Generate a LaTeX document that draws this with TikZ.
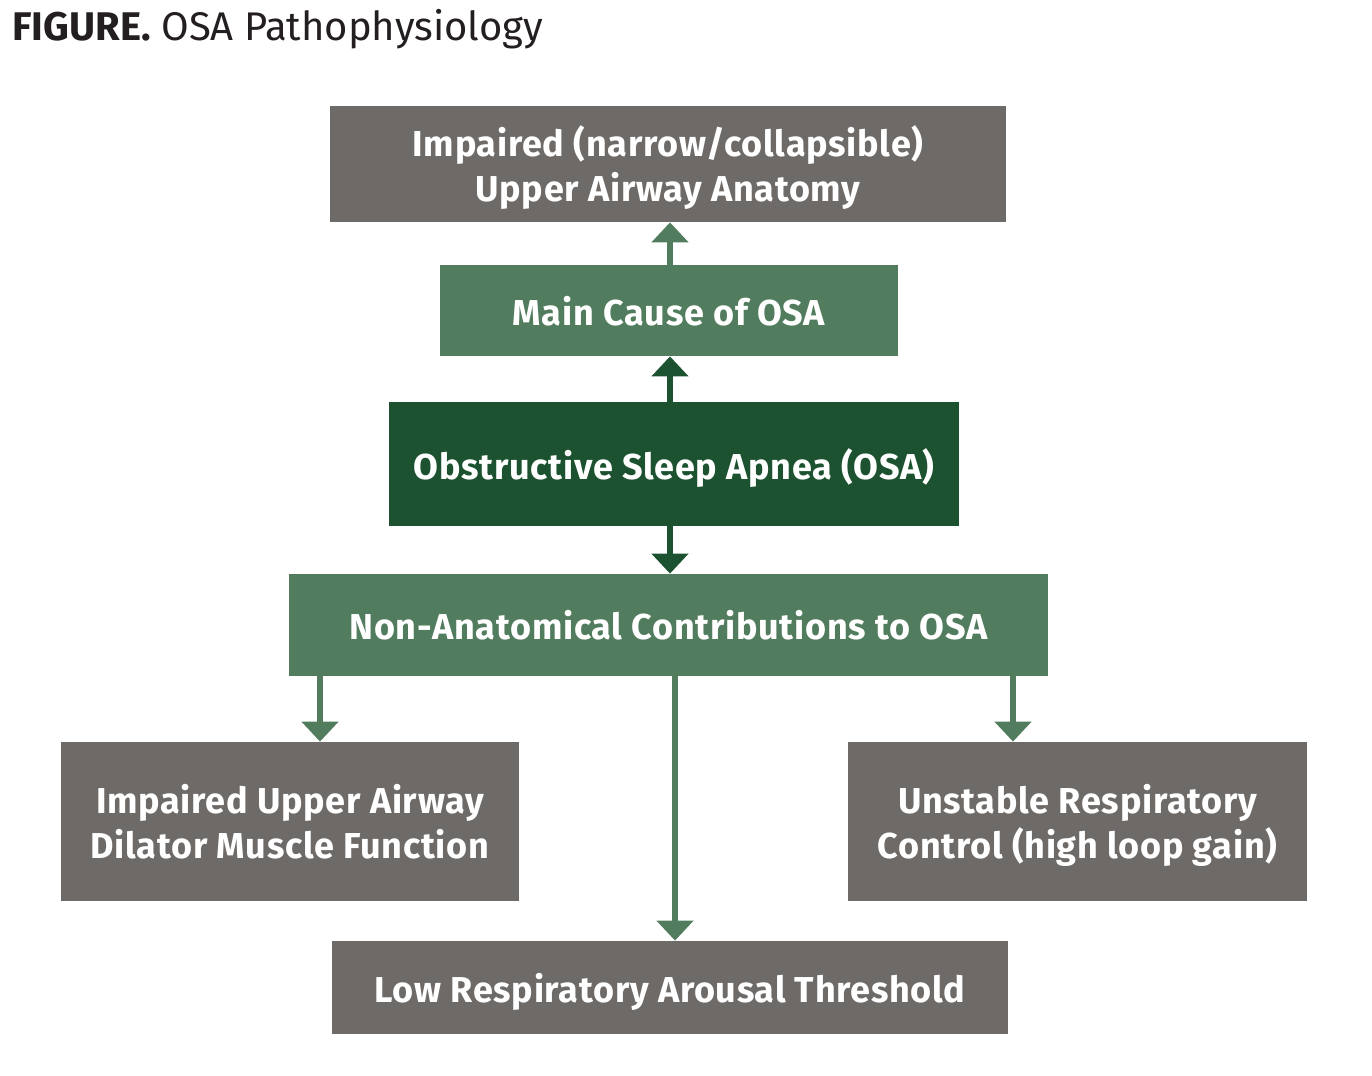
\documentclass[tikz,border=0pt]{standalone}
\usepackage{fontspec}
\setmainfont{Fira Sans}
\usetikzlibrary{arrows.meta}
\definecolor{boxgray}{HTML}{6E6A68}
\definecolor{midgreen}{HTML}{527C5E}
\definecolor{darkgreen}{HTML}{1C5230}
\definecolor{titlegray}{HTML}{231F20}
\begin{document}
\begin{tikzpicture}[x=0.5pt,y=-0.5pt,
  box/.style={rectangle, inner sep=0pt, text=white, align=center, text depth=0pt,
    font=\fontsize{18}{22.5}\selectfont\bfseries\addfontfeature{LetterSpace=2}},
  gbox/.style={box, fill=boxgray},
  mbox/.style={box, fill=midgreen},
  dbox/.style={box, fill=darkgreen},
  marrow/.style={draw=midgreen, line width=2.6pt, -{Triangle[width=18pt,length=10pt]}},
  darrow/.style={draw=darkgreen, line width=2.6pt, -{Triangle[width=18pt,length=10pt]}}]
\useasboundingbox (0,0) rectangle (1372,1076);
\node[anchor=base west, inner sep=0pt, text=titlegray, font=\fontsize{20}{24}\selectfont] (title) at (12,40)
  {\textbf{FIGURE.} OSA Pathophysiology};
\node[gbox, minimum width=338pt, minimum height=58pt] (anat) at (668,164)
  {Impaired (narrow/collapsible)\\Upper Airway Anatomy};
\node[mbox, minimum width=229pt, minimum height=45.5pt] (main) at (669,310.5) {Main Cause of OSA};
\node[dbox, minimum width=285pt, minimum height=62pt] (osa) at (674,464) {Obstructive Sleep Apnea (OSA)};
\node[mbox, minimum width=379.5pt, minimum height=51pt] (non) at (668.5,625) {Non-Anatomical Contributions to OSA};
\node[gbox, minimum width=229pt, minimum height=79.5pt] (dil) at (290,821.5)
  {Impaired Upper Airway\\Dilator Muscle Function};
\node[gbox, minimum width=229.5pt, minimum height=79.5pt] (unst) at (1077.5,821.5)
  {Unstable Respiratory\\Control (high loop gain)};
\node[gbox, minimum width=338pt, minimum height=46.5pt] (low) at (670,987.5) {Low Respiratory Arousal Threshold};
\draw[marrow] (main.north -| 670,0) -- (anat.south -| 670,0);
\draw[darrow] (osa.north -| 670,0) -- (main.south -| 670,0);
\draw[darrow] (osa.south -| 670,0) -- (non.north -| 670,0);
\draw[marrow] (non.south -| 320,0) -- (dil.north -| 320,0);
\draw[marrow] (non.south -| 1013,0) -- (unst.north -| 1013,0);
\draw[marrow] (non.south -| 675,0) -- (low.north -| 675,0);
\end{tikzpicture}
\end{document}
